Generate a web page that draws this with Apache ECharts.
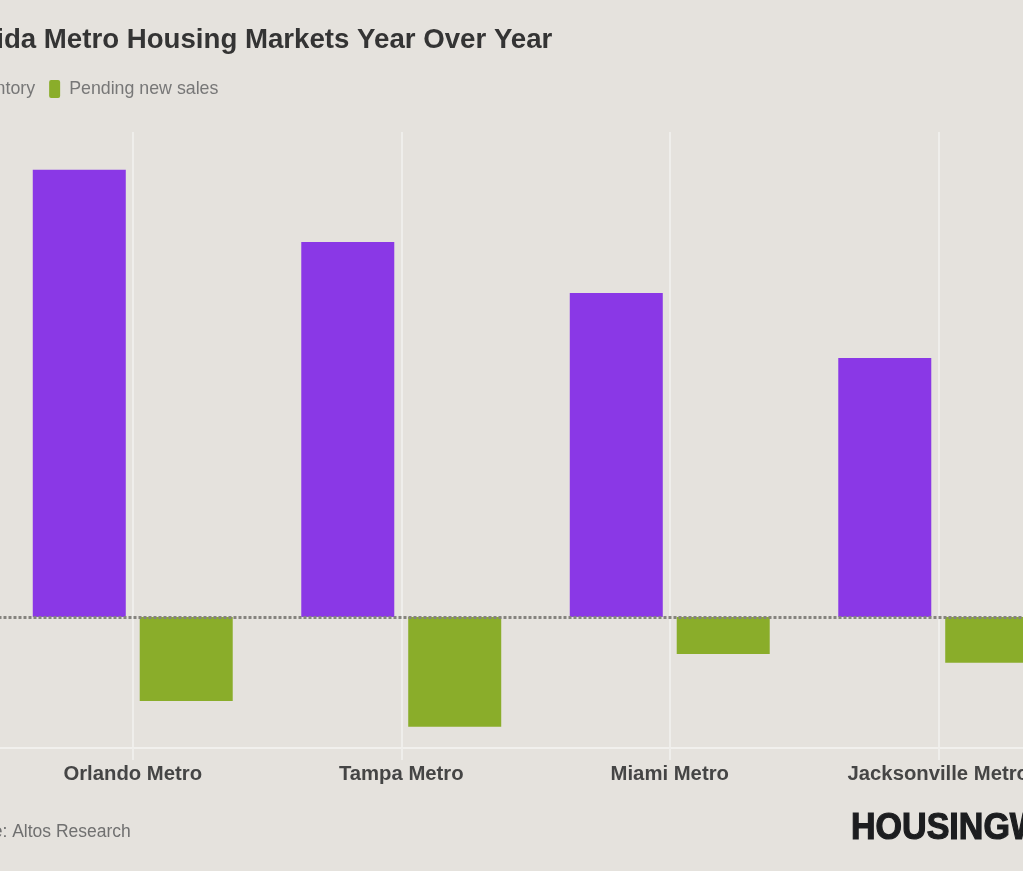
<!DOCTYPE html>
<html>
<head>
<meta charset="utf-8">
<script src="https://cdn.jsdelivr.net/npm/echarts@6/dist/echarts.min.js"></script>
<style>
html,body{margin:0;padding:0;width:1023px;height:871px;overflow:hidden;background:#e5e2dd;}
#chart{position:absolute;left:-70px;top:0;width:1200px;height:871px;}
</style>
</head>
<body>
<div id="chart"></div>
<script>
const categories = ['Orlando Metro', 'Tampa Metro', 'Miami Metro', 'Jacksonville Metro'];
const inventory = [92.2, 77.3, 66.8, 53.4];
const pendingNewSales = [-17.3, -22.6, -7.6, -9.4];
const seriesNames = ['Inventory', 'Pending new sales'];

const FONT = '"Liberation Sans", Arial, sans-serif';
const LEGEND_ICON = 'path://M2,0 H9 A2,2 0 0 1 11,2 V16 A2,2 0 0 1 9,18 H2 A2,2 0 0 1 0,16 V2 A2,2 0 0 1 2,0 Z';
const chart = echarts.init(document.getElementById('chart'), null, {renderer: 'canvas'});
chart.setOption({
  backgroundColor: '#e5e2dd',
  animation: false,
  title: {
    text: 'Florida Metro Housing Markets Year Over Year',
    left: 9, top: 21,
    textStyle: {fontFamily: FONT, fontSize: 27.65, fontWeight: 'bold', color: '#343434'}
  },
  legend: {
    left: 7, top: 75,
    itemWidth: 19, itemHeight: 18, itemGap: 14,
    icon: LEGEND_ICON,
    textStyle: {fontFamily: FONT, fontSize: 17.8, color: '#777777'},
    data: seriesNames
  },
  grid: {left: 68.5, right: 57.5, top: 132, bottom: 123, containLabel: false},
  xAxis: {
    type: 'category',
    data: categories,
    axisLine: {show: true, onZero: false, lineStyle: {color: '#f1f0ed', width: 2}},
    axisTick: {show: true, alignWithLabel: true, length: 12, lineStyle: {color: '#efeeeb', width: 2}},
    splitLine: {show: true, alignWithLabel: true, lineStyle: {color: '#efeeeb', width: 2}},
    axisLabel: {margin: 16, fontFamily: FONT, fontSize: 20.3, fontWeight: 'bold', color: '#454545', interval: 0}
  },
  yAxis: {
    type: 'value', min: -27, max: 100,
    show: false,
    splitLine: {show: false}
  },
  series: [
    {
      name: seriesNames[0], type: 'bar', data: inventory,
      barWidth: 93, barGap: '15%',
      itemStyle: {color: '#8a38e6'},
      markLine: {
        silent: true, symbol: 'none', z: 10,
        label: {show: false},
        lineStyle: {color: '#85837f', type: [3, 2], width: 3},
        data: [{yAxis: 0}]
      }
    },
    {
      name: seriesNames[1], type: 'bar', data: pendingNewSales,
      barWidth: 93,
      itemStyle: {color: '#8aad2a'}
    }
  ],
  graphic: [
    {
      type: 'text', left: 17, top: 823,
      style: {text: 'Source: Altos Research', font: '17.5px "Liberation Sans", Arial, sans-serif', fill: '#707070'}
    },
    {
      type: 'text', x: 921, y: 810, scaleX: 0.92, scaleY: 1,
      style: {text: 'HOUSINGWIRE', font: 'bold 37px "Liberation Sans", Arial, sans-serif', fill: '#1c1d1f', stroke: '#1c1d1f', lineWidth: 1.2}
    }
  ]
});
</script>
</body>
</html>
